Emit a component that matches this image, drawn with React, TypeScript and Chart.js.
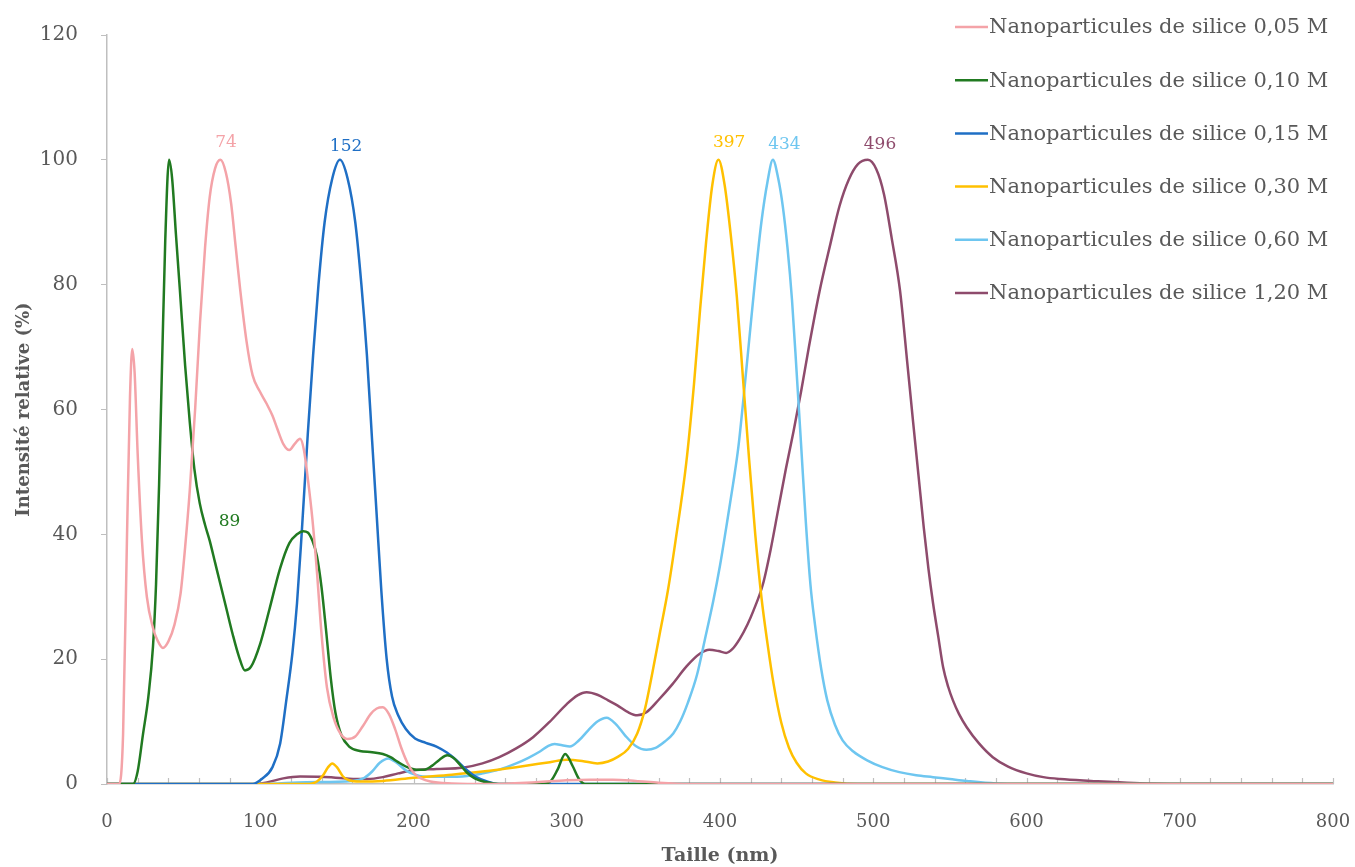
import React, { useEffect, useRef } from 'react';
import { Chart, registerables } from 'chart.js';

Chart.register(...registerables);

// ---------- data ----------
const seriesLabels = [
  'Nanoparticules de silice 0,05 M',
  'Nanoparticules de silice 0,10 M',
  'Nanoparticules de silice 0,15 M',
  'Nanoparticules de silice 0,30 M',
  'Nanoparticules de silice 0,60 M',
  'Nanoparticules de silice 1,20 M',
];
const seriesColors = ['#F4A3A8', '#217A21', '#1F6FC5', '#FFC000', '#6EC6F0', '#8E4B6C'];

const x005 = [0, 8, 10.5, 13, 15, 16.5, 18, 20, 22.8, 26, 30, 33, 36.5, 40, 44, 48, 51, 54, 57.5, 60.7, 64, 67, 70.5, 74, 77.5, 81, 84, 87, 91, 95, 99.5, 104, 108, 111, 115, 119, 122.5, 126, 128.5, 131, 134, 137, 140, 143.5, 148, 152.5, 157, 162, 167, 172, 176, 180, 184, 188, 192, 196, 200, 205, 211, 225, 250, 280, 300, 315, 330, 345, 360, 380, 800];
const y005 = [0, 0, 8, 39, 62, 69.7, 66, 53, 39, 30, 25, 23, 21.8, 22.8, 25.5, 30.5, 38, 47, 60, 74, 86, 94, 98.6, 100, 98, 93, 86, 79, 71, 65.5, 63, 61, 59, 57, 54.5, 53.5, 54.5, 55.3, 53.5, 49, 42.5, 34, 24, 15.5, 10.5, 8, 7.2, 7.6, 9.3, 11.2, 12.1, 12.3, 11.2, 8.8, 5.8, 3.4, 1.8, 0.9, 0.4, 0.1, 0, 0.3, 0.6, 0.7, 0.7, 0.5, 0.2, 0, 0];

const x010 = [0, 17, 20, 23.5, 27, 30, 32, 34, 36, 38, 40.5, 42.5, 45, 47.6, 51, 54, 57, 60.5, 64, 67, 70.5, 74, 78, 82, 86, 90, 94, 100, 106, 113, 119, 124, 128, 131, 134, 137, 140, 143, 146, 149, 153, 158, 165, 173, 180, 185, 190, 196, 202, 207, 212, 217, 222, 226, 230, 235, 240, 246, 252, 260, 285, 290, 294, 299, 304, 308, 312, 800];
const y010 = [0, 0, 2, 8, 14, 22, 32, 48, 68, 87, 100, 97, 88, 79, 67, 58, 50.5, 45, 41.5, 39, 35.5, 32, 28, 24, 20.5, 18.2, 18.8, 22.5, 28, 34.6, 38.6, 40, 40.5, 40.3, 39, 36.5, 31.5, 24.5, 17, 11.5, 7.8, 6, 5.3, 5.1, 4.8, 4.3, 3.5, 2.7, 2.3, 2.3, 2.9, 3.9, 4.6, 4.2, 3.2, 1.8, 0.9, 0.35, 0.1, 0, 0, 0.6, 2.3, 4.8, 2.8, 0.8, 0, 0];

const x015 = [0, 95, 101, 108, 113, 117, 121, 124, 127, 131, 134.5, 138, 142, 147, 152, 157, 162, 166, 169.6, 173, 176, 179, 182.5, 186, 190, 195, 201, 208, 215, 222, 228, 234, 241, 248, 255, 800];
const y015 = [0, 0, 0.8, 2.7, 6.5, 13.4, 21, 29, 40, 56, 68.7, 80, 90, 97, 100, 97, 90, 80, 68.7, 55, 43, 31, 20, 14, 11, 8.8, 7.3, 6.6, 6, 5, 3.8, 2.4, 1.1, 0.4, 0, 0];

const x030 = [0, 130, 137, 141, 144, 147, 150, 154, 158, 165, 180, 200, 225, 245, 267, 289, 300, 310, 320, 327, 333, 340, 346, 351, 356, 361, 366, 371, 378, 383, 387, 391, 395, 399, 403, 407, 411, 415, 419, 423, 427, 431, 435, 440, 445, 450, 456, 465, 475, 490, 800];
const y030 = [0, 0, 0.4, 1.4, 2.6, 3.3, 2.7, 1.2, 0.6, 0.4, 0.5, 1, 1.5, 2, 2.7, 3.5, 3.9, 3.7, 3.3, 3.6, 4.3, 5.6, 8.1, 12, 18, 24.5, 31, 39, 51.5, 64, 76, 87, 96, 100, 96, 88, 78, 65, 52, 40, 30, 22.5, 16, 9.8, 5.8, 3.4, 1.7, 0.7, 0.25, 0, 0];

const x060 = [0, 100, 130, 160, 168, 173, 178, 183.6, 189, 195.5, 201, 206, 220, 235, 245, 256, 267, 275, 282.5, 288, 292, 297, 302, 308, 314, 320, 326, 332, 338, 345, 352, 358, 364, 369.5, 374, 379, 385, 390, 395.6, 400, 404, 408.5, 412, 415, 419, 423, 427, 431, 434.5, 438, 441, 444, 447, 450, 453, 456, 459, 462, 466, 470, 475, 480, 487, 496, 506, 517, 528, 539, 550, 561, 580, 600, 800];
const y060 = [0, 0, 0.3, 0.5, 1, 2, 3.4, 4.1, 3.4, 2.1, 1.5, 1.2, 1.15, 1.3, 1.7, 2.3, 3.3, 4.2, 5.2, 6.1, 6.4, 6.2, 6, 7, 8.6, 10, 10.6, 9.6, 7.8, 6.1, 5.5, 5.8, 6.8, 8.1, 10, 13, 17.5, 23, 29.3, 35, 41, 48, 54, 61, 71, 81, 90, 96.5, 100, 97, 92.5, 86, 77.5, 66, 54, 42, 32, 25.5, 18.5, 13.4, 9.5, 7, 5.2, 3.8, 2.7, 1.9, 1.4, 1.1, 0.8, 0.5, 0.1, 0, 0];

const x120 = [0, 97, 105, 115, 126, 140, 158, 170, 180, 190, 200, 215, 232, 245, 256, 267, 278, 289, 300, 307, 313, 320, 327, 333, 340, 346, 352, 360, 369, 378, 387, 393, 399, 404, 408, 413, 418, 421.7, 428, 433, 438, 443, 448, 453, 458, 465, 472, 478, 484, 490, 496.5, 502, 507, 512, 517.5, 522, 526, 529.5, 533, 536, 539, 542.5, 545.6, 549, 552, 556, 561, 569, 578, 588, 600, 611, 622, 642, 670, 700, 800];
const y120 = [0, 0, 0.3, 0.9, 1.2, 1.15, 0.85, 0.8, 1.1, 1.7, 2.2, 2.4, 2.6, 3.3, 4.3, 5.7, 7.5, 10, 12.8, 14.2, 14.7, 14.3, 13.4, 12.6, 11.5, 11, 11.5, 13.5, 16, 18.8, 20.9, 21.5, 21.3, 21, 21.6, 23.3, 25.6, 27.7, 32, 37.5, 44, 50.5, 56.5, 63, 70, 79, 86.5, 92.6, 96.8, 99.3, 100, 98.5, 94.5, 87.5, 79, 68, 58, 49.5, 41, 34.5, 29, 23.5, 18.7, 15.5, 13.4, 11.2, 9.1, 6.5, 4.3, 2.8, 1.7, 1.1, 0.8, 0.5, 0.15, 0, 0];

const seriesX = [x005, x010, x015, x030, x060, x120];
const seriesY = [y005, y010, y015, y030, y060, y120];

// peak annotations
const peakLabels = ['74', '89', '152', '397', '434', '496'];
const peakLabelX = [77.7, 80, 156, 406, 442, 504.4];
const peakLabelY = [102.7, 42, 102.2, 102.7, 102.4, 102.5];
const peakLabelSeries = [0, 1, 2, 3, 4, 5];

const xTickStep = 20;
const yTickStep = 20;

const FONT = '"DejaVu Serif", serif';
const GREY = '#595959';
const AXIS_GREY = '#BFBFBF';

const peakLabelPlugin = {
  id: 'peakLabels',
  afterDatasetsDraw(chart: any) {
    const { ctx, scales } = chart;
    ctx.save();
    ctx.font = `17px ${FONT}`;
    ctx.textAlign = 'center';
    ctx.textBaseline = 'middle';
    peakLabels.forEach((t, i) => {
      ctx.fillStyle = seriesColors[peakLabelSeries[i]];
      ctx.fillText(t, scales.x.getPixelForValue(peakLabelX[i]), scales.y.getPixelForValue(peakLabelY[i]));
    });
    ctx.restore();
  },
};

// small inward tick marks on the x axis (one per scale tick)
const innerTicksPlugin = {
  id: 'innerTicks',
  beforeDatasetsDraw(chart: any) {
    const { ctx, scales, chartArea } = chart;
    const xs = scales.x;
    ctx.save();
    ctx.strokeStyle = AXIS_GREY;
    ctx.lineWidth = 1.2;
    xs.ticks.forEach((t: any) => {
      const px = Math.round(xs.getPixelForValue(t.value)) + 0.5;
      ctx.beginPath();
      ctx.moveTo(px, chartArea.bottom);
      ctx.lineTo(px, chartArea.bottom - 6);
      ctx.stroke();
    });
    ctx.restore();
  },
};

const sideLegendPlugin = {
  id: 'sideLegend',
  afterDraw(chart: any) {
    const { ctx } = chart;
    ctx.save();
    ctx.font = `21px ${FONT}`;
    ctx.textBaseline = 'middle';
    ctx.textAlign = 'left';
    chart.data.datasets.forEach((ds: any, i: number) => {
      const y = 27 + i * 53.2;
      ctx.strokeStyle = ds.borderColor;
      ctx.lineWidth = 2.5;
      ctx.beginPath();
      ctx.moveTo(955, y);
      ctx.lineTo(988, y);
      ctx.stroke();
      ctx.fillStyle = GREY;
      ctx.fillText(ds.label, 989, y + 1);
    });
    ctx.restore();
  },
};

export default function App() {
  const ref = useRef<HTMLCanvasElement | null>(null);

  useEffect(() => {
    if (!ref.current) return;
    const datasets = seriesLabels.map((label, i) => ({
      label,
      data: seriesX[i].map((x, j) => ({ x, y: seriesY[i][j] })),
      borderColor: seriesColors[i],
      backgroundColor: seriesColors[i],
      borderWidth: 2.5,
      pointRadius: 0,
      cubicInterpolationMode: 'monotone' as const,
      fill: false,
    }));
    const chart = new Chart(ref.current, {
      type: 'line',
      data: { datasets },
      plugins: [innerTicksPlugin, peakLabelPlugin, sideLegendPlugin],
      options: {
        animation: false,
        responsive: false,
        devicePixelRatio: 1,
        layout: { padding: { top: 32, right: 22, bottom: 0, left: 0 } },
        plugins: {
          legend: { display: false },
          tooltip: { enabled: false },
        },
        scales: {
          x: {
            type: 'linear',
            min: 0,
            max: 800,
            afterFit: (s: any) => { s.height = 83; s.paddingLeft = 0; s.paddingRight = 0; },
            border: { display: true, color: AXIS_GREY, width: 1.5 },
            grid: { display: true, drawOnChartArea: false, drawTicks: false },
            ticks: {
              stepSize: xTickStep,
              autoSkip: false,
              maxRotation: 0,
              padding: 28,
              color: GREY,
              font: { family: FONT, size: 18 },
              callback: (v: any) => (Number(v) % 100 === 0 ? String(v) : ''),
            },
            title: {
              display: true,
              text: 'Taille (nm)',
              color: GREY,
              font: { family: FONT, size: 19, weight: 'bold' },
              padding: { top: 0, bottom: 0 },
            },
          },
          y: {
            type: 'linear',
            min: 0,
            max: 120,
            afterFit: (s: any) => { s.width = 107; },
            border: { display: true, color: AXIS_GREY, width: 1.5 },
            grid: { display: true, drawOnChartArea: false, drawTicks: true, tickLength: 6, color: AXIS_GREY },
            ticks: {
              stepSize: yTickStep,
              padding: 23,
              color: GREY,
              font: { family: FONT, size: 20 },
            },
            title: {
              display: true,
              text: 'Intensité relative (%)',
              color: GREY,
              font: { family: FONT, size: 18, weight: 'bold' },
              padding: { top: 14, bottom: 0 },
            },
          },
        },
      },
    });
    return () => chart.destroy();
  }, []);

  return (
    <div style={{ position: 'fixed', left: 0, top: 0, width: 1355, height: 867, background: '#fff' }}>
      <canvas ref={ref} width={1355} height={867} style={{ width: 1355, height: 867, display: 'block' }} />
    </div>
  );
}
